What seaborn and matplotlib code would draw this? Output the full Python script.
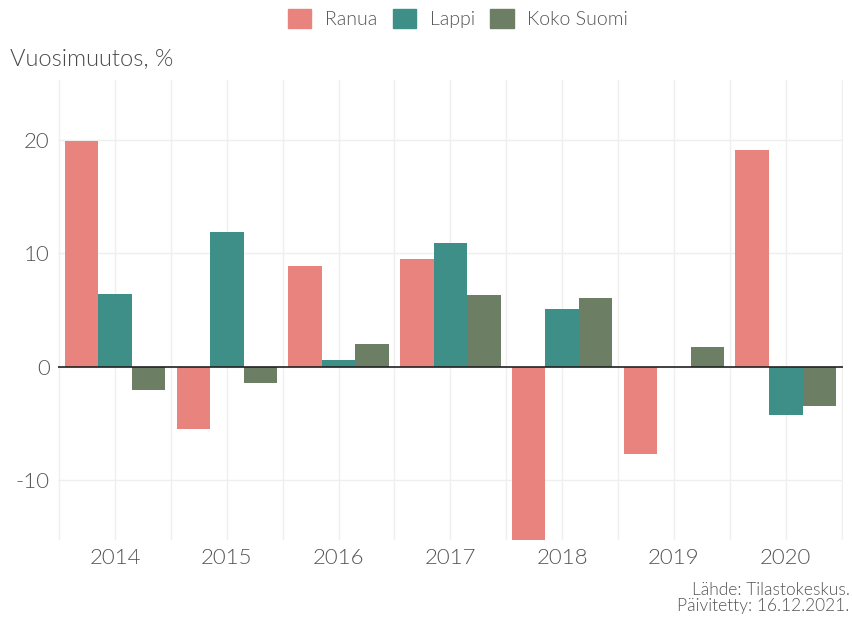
import pandas as pd
import seaborn as sns
import matplotlib.pyplot as plt
from matplotlib.ticker import MultipleLocator

# data
years = ["2014", "2015", "2016", "2017", "2018", "2019", "2020"]
ranua = [19.9, -5.5, 8.9, 9.5, -16.0, -7.7, 19.1]
lappi = [6.4, 11.9, 0.6, 10.9, 5.1, 0.0, -4.3]
koko_suomi = [-2.1, -1.4, 2.0, 6.3, 6.1, 1.7, -3.5]
series = ["Ranua", "Lappi", "Koko Suomi"]
colors = ["#E9837D", "#3F8F89", "#6C7F64"]

df = pd.DataFrame({
    "year": years * 3,
    "value": ranua + lappi + koko_suomi,
    "alue": [s for s in series for _ in years],
})

sns.set_style("white")
plt.rcParams["font.family"] = ["Lato", "DejaVu Sans"]
plt.rcParams["font.weight"] = 300
plt.rcParams["axes.unicode_minus"] = False

fig = plt.figure(figsize=(8.53, 6.17), dpi=100)
ax = fig.add_axes([0.068, 0.125, 0.92, 0.745])

sns.barplot(data=df, x="year", y="value", hue="alue", order=years,
            hue_order=series, palette=colors, width=0.9, saturation=1,
            linewidth=0, ax=ax, legend=False, zorder=2)

ax.set_xlim(-0.51, 6.51)
ax.set_ylim(-15.3, 25.3)
ax.set_yticks([-10, 0, 10, 20])
ax.xaxis.set_minor_locator(MultipleLocator(1, offset=0.5))
ax.grid(True, which="major", color="#EFEFEF", lw=1, zorder=0)
ax.grid(True, which="minor", axis="x", color="#EFEFEF", lw=1, zorder=0)
ax.set_axisbelow(True)
ax.axhline(0, color="#222222", lw=1.2, zorder=3)
for s in ax.spines.values():
    s.set_visible(False)
ax.tick_params(which="both", length=0, labelsize=16, labelcolor="#555555", pad=6)
ax.set_xlabel("")
ax.set_ylabel("")

fig.text(0.012, 0.905, "Vuosimuutos, %", fontsize=17, color="#4A4A4A", va="center")

handles = [plt.Rectangle((0, 0), 1, 1, color=c) for c in colors]
fig.legend(handles, series, loc="center", bbox_to_anchor=(0.537, 0.97), ncol=3,
           frameon=False, fontsize=14, labelcolor="#555555", handlelength=1.2,
           handleheight=1.2, handletextpad=0.7, columnspacing=0.8)

fig.text(0.996, 0.031, "Lähde: Tilastokeskus.\nPäivitetty: 16.12.2021.", fontsize=12.5,
         color="#555555", ha="right", va="center", linespacing=0.95)

plt.savefig("out.png", dpi=100)
